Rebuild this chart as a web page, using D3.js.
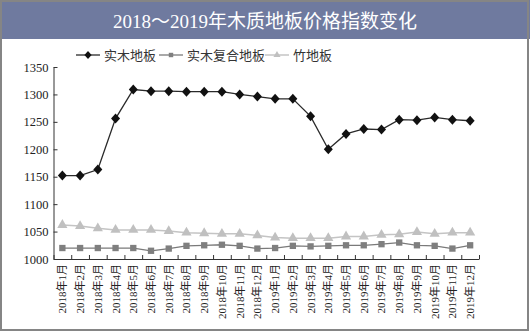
<!DOCTYPE html>
<html><head><meta charset="utf-8">
<script src="https://cdn.jsdelivr.net/npm/d3@7"></script>
<style>
html,body{margin:0;padding:0;background:#fff;}
svg{display:block;}
text{font-family:"Liberation Serif","Noto Sans CJK SC",serif;}
</style></head>
<body>
<svg id="c" width="530" height="332"></svg>
<script>
const title = "2018～2019年木质地板价格指数变化";
const months = ["2018年1月","2018年2月","2018年3月","2018年4月","2018年5月","2018年6月","2018年7月","2018年8月","2018年9月","2018年10月","2018年11月","2018年12月",
"2019年1月","2019年2月","2019年3月","2019年4月","2019年5月","2019年6月","2019年7月","2019年8月","2019年9月","2019年10月","2019年11月","2019年12月"];
const solidWood = [1152,1152,1163,1256,1309,1306,1306,1305,1305,1305,1300,1296,1292,1292,1260,1200,1228,1237,1236,1254,1253,1258,1254,1252];
const composite = [1020,1020,1020,1020,1020,1015,1019,1024,1025,1026,1024,1019,1020,1024,1023,1024,1025,1025,1027,1030,1025,1024,1019,1025];
const bamboo = [1062,1060,1056,1053,1053,1053,1051,1048,1047,1046,1046,1043,1039,1038,1038,1038,1041,1041,1044,1045,1049,1046,1048,1048];
const seriesNames = ["实木地板","实木复合地板","竹地板"];
const yTicks = [1000,1050,1100,1150,1200,1250,1300,1350];

const svg = d3.select("#c");
const W = 530, H = 332;

// frame and title bar
svg.append("rect").attr("x",0).attr("y",0).attr("width",W).attr("height",H).attr("fill","#fff");
svg.append("rect").attr("x",0).attr("y",0).attr("width",W).attr("height",39).attr("fill","#6f7a9f");
svg.append("rect").attr("x",1).attr("y",1).attr("width",W-3).attr("height",H-3)
  .attr("fill","none").attr("stroke","#858585").attr("stroke-width",2);
svg.append("text").attr("x",265).attr("y",28).attr("text-anchor","middle")
  .attr("fill","#fff").attr("font-size",19).text(title);

const x = d3.scaleLinear().domain([0, months.length]).range([53.5, 479]);
const y = d3.scaleLinear().domain([1000,1350]).range([259, 67]);

// axes
const gy = svg.append("g").attr("transform","translate(53.5,0)")
  .call(d3.axisLeft(y).tickValues(yTicks).tickFormat(d3.format("d")).tickSize(-4).tickSizeOuter(0).tickPadding(5));
gy.selectAll("path,line").attr("stroke","#333");
gy.selectAll("text").attr("font-size",12.5).attr("fill","#222")
  .style("font-family",'"Liberation Serif",serif');

const gx = svg.append("g").attr("transform","translate(0,259)")
  .call(d3.axisBottom(x).tickValues(d3.range(months.length+1)).tickSize(-4).tickSizeOuter(0).tickFormat(""));
gx.selectAll("path,line").attr("stroke","#333");

svg.append("g").selectAll("text").data(months).join("text")
  .attr("transform",(d,i)=>`translate(${x(i+0.5)+4},264) rotate(-90)`)
  .attr("text-anchor","end").attr("font-size",11).attr("fill","#222").text(d=>d);

const line = d3.line().x((d,i)=>x(i+0.5)).y(d=>y(d));

const diamond = "M0,-5L4.5,0L0,5L-4.5,0Z";
const specs = [
  {data: solidWood, stroke:"#2a2a2a", fill:"#111", sw:1.3, shape:"diamond"},
  {data: composite, stroke:"#7a7a7a", fill:"#7f7f7f", sw:1.3, shape:"square"},
  {data: bamboo, stroke:"#c4c4c4", fill:"#c0c0c0", sw:1.5, shape:"triangle"}
];
function marker(g, shape, fill){
  if(shape==="diamond") g.append("path").attr("d",diamond).attr("fill",fill);
  else if(shape==="square") g.append("path").attr("d",d3.symbol(d3.symbolSquare,40)()).attr("fill",fill);
  else g.append("path").attr("d",d3.symbol(d3.symbolTriangle,45)()).attr("fill",fill);
}
specs.slice().reverse().forEach(s=>{
  svg.append("path").datum(s.data).attr("d",line).attr("fill","none")
    .attr("stroke",s.stroke).attr("stroke-width",s.sw);
  svg.append("g").selectAll("g").data(s.data).join("g")
    .attr("transform",(d,i)=>`translate(${x(i+0.5)},${y(d)})`)
    .each(function(){ marker(d3.select(this), s.shape, s.fill); });
});

// legend
const legX = [76, 159, 265];
const leg = svg.append("g");
seriesNames.forEach((n,i)=>{
  const g = leg.append("g").attr("transform",`translate(${legX[i]},55)`);
  g.append("line").attr("x1",0).attr("x2",24).attr("y1",0).attr("y2",0)
    .attr("stroke",specs[i].stroke).attr("stroke-width",specs[i].sw);
  const m = g.append("g").attr("transform","translate(12,0)");
  marker(m, specs[i].shape, specs[i].fill);
  if(i===0) m.select("path").attr("transform","scale(0.8)");
  if(i>0) m.select("path").attr("transform","scale(0.7)");
  g.append("text").attr("x",28).attr("y",4.5).attr("font-size",13).attr("fill","#333").text(n);
});
</script>
</body></html>
